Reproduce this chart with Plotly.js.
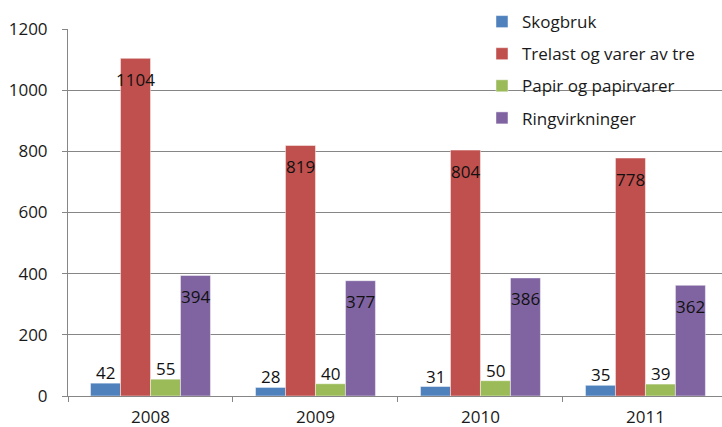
<!DOCTYPE html>
<html>
<head>
<meta charset="utf-8">
<script src="https://cdn.plot.ly/plotly-3.0.1.min.js"></script>
<style>html,body{margin:0;padding:0;background:#fff;}#chart{width:722px;height:427px;}</style>
</head>
<body>
<div id="chart"></div>
<script>
const years = ["2008", "2009", "2010", "2011"];
const seriesNames = ["Skogbruk", "Trelast og varer av tre", "Papir og papirvarer", "Ringvirkninger"];
const skogbruk = [42, 28, 31, 35];
const trelast = [1104, 819, 804, 778];
const papir = [55, 40, 50, 39];
const ringvirkninger = [394, 377, 386, 362];
const colors = ["#4F81BD", "#C0504D", "#9BBB59", "#8064A2"];
// label placement per series: true = inside end, false = just above bar
const labelInside = [false, true, false, true];

const allValues = [skogbruk, trelast, papir, ringvirkninger];
const font = "'Open Sans', Lato, sans-serif";
const bargap = 0.273;
const barW = (1 - bargap) / allValues.length;

const traces = allValues.map((vals, i) => ({
  type: "bar",
  name: seriesNames[i],
  legendgroup: "g" + i,
  x: years,
  y: vals,
  marker: {color: colors[i], line: {color: "rgba(255,255,255,0.45)", width: 1}},
  hoverinfo: "skip"
}));

const annotations = [];
allValues.forEach((vals, i) => {
  const off = (i - (allValues.length - 1) / 2) * barW;
  vals.forEach((v, j) => {
    annotations.push({
      x: j + off, y: v, xref: "x", yref: "y",
      text: String(v), showarrow: false,
      xanchor: "center", yanchor: labelInside[i] ? "middle" : "bottom",
      yshift: labelInside[i] ? -21 : -3,
      font: {family: font, size: 17, color: "#111"}
    });
  });
});

const layout = {
  width: 722,
  height: 427,
  margin: {l: 68, r: 0, t: 29, b: 31},
  paper_bgcolor: "#fff",
  plot_bgcolor: "rgba(0,0,0,0)",
  barmode: "group",
  bargap: bargap,
  bargroupgap: 0,
  font: {family: font, size: 17, color: "#1a1a1a"},
  showlegend: true,
  legend: {
    x: 0.633, y: 1.068, xanchor: "left", yanchor: "top",
    bgcolor: "rgba(0,0,0,0)",
    font: {family: font, size: 17, color: "#1a1a1a"},
    tracegroupgap: 7,
    itemwidth: 30
  },
  annotations: annotations,
  xaxis: {
    type: "category",
    range: [-0.5, 3.464],
    showline: true, linecolor: "#868686", linewidth: 1,
    ticks: "outside", tickson: "boundaries", ticklen: 5, tickcolor: "#868686",
    showgrid: false,
    ticklabelstandoff: 6,
    tickfont: {family: font, size: 17, color: "#1a1a1a"}
  },
  yaxis: {
    range: [0, 1200], dtick: 200,
    showline: true, linecolor: "#868686", linewidth: 1,
    ticks: "outside", ticklen: 5, tickcolor: "#868686",
    showgrid: true, gridcolor: "#868686", gridwidth: 1,
    zeroline: false,
    ticklabelstandoff: 11,
    tickfont: {family: font, size: 17, color: "#1a1a1a"}
  }
};

Plotly.newPlot("chart", traces, layout, {displayModeBar: false, staticPlot: true});
</script>
</body>
</html>
